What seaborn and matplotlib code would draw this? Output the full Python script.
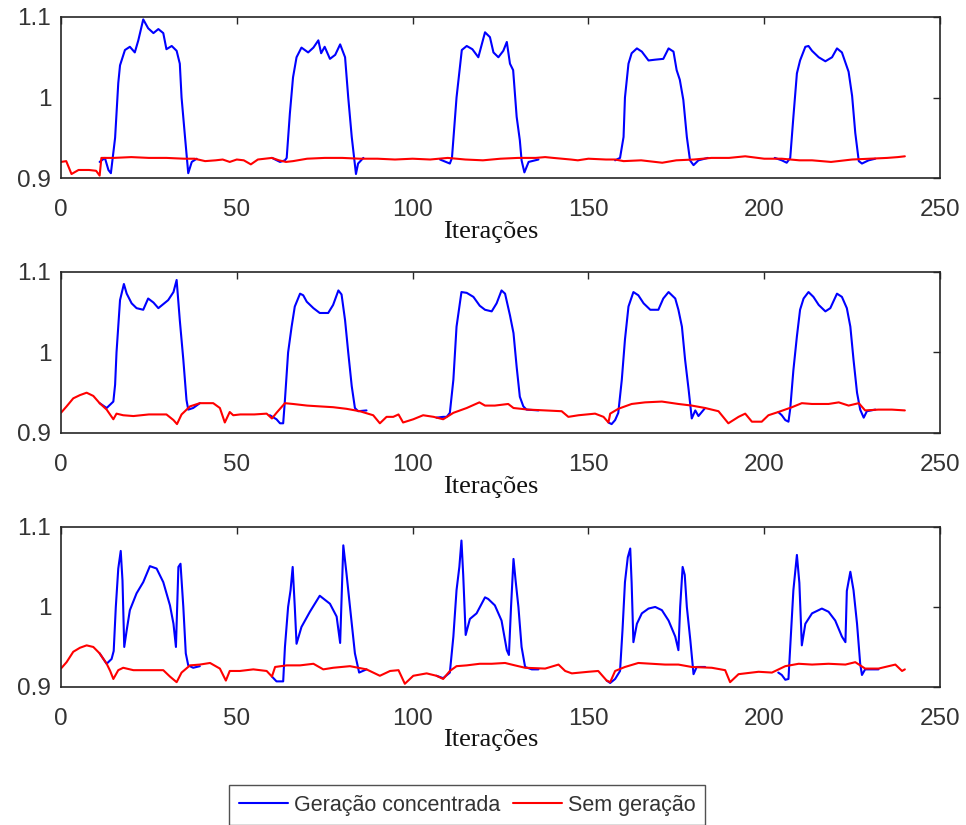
import numpy as np
import pandas as pd
import seaborn as sns
import matplotlib.pyplot as plt
from matplotlib.lines import Line2D

# ---- painel 1 ----
sem1_x = [0, 1.5, 3, 5, 8, 10, 11, 11.5, 15, 20, 25, 30, 35, 38, 41, 44, 46, 48, 50, 52, 54, 56,
          58, 60, 62, 64, 66, 70, 75, 80, 85, 90, 95, 100, 105, 110, 115, 120, 125, 130, 135,
          137.7, 140, 145, 147, 150, 155, 157.6, 160, 165, 171, 175, 180, 185, 190, 194.6,
          200, 205, 210, 213.6, 219, 225, 230, 235, 238, 240]
sem1_y = [0.920, 0.921, 0.905, 0.910, 0.910, 0.909, 0.903, 0.925, 0.925, 0.926, 0.925, 0.925,
          0.924, 0.924, 0.921, 0.922, 0.923, 0.920, 0.923, 0.922, 0.917, 0.923, 0.924, 0.925,
          0.922, 0.920, 0.921, 0.924, 0.925, 0.925, 0.924, 0.924, 0.923, 0.924, 0.923, 0.925,
          0.923, 0.922, 0.924, 0.925, 0.925, 0.926, 0.925, 0.923, 0.922, 0.924, 0.923, 0.923,
          0.921, 0.922, 0.919, 0.922, 0.923, 0.925, 0.925, 0.927, 0.924, 0.924, 0.922, 0.922,
          0.920, 0.923, 0.924, 0.925, 0.926, 0.927]
ger1_x = [
    [11, 12.5, 13.5, 14.2, 15.4, 16.3, 16.8, 18.2, 19.6, 21, 22, 23.4, 24.8, 26.3, 27.7, 29.1,
     30, 31.5, 32.9, 33.8, 34.3, 35.3, 36.2, 37.2, 38.6],
    [60, 62.3, 63.7, 64.2, 65.1, 66, 67, 68.4, 70.3, 71.8, 73.2, 74, 75, 76.5, 78, 79.4, 80.8,
     81.7, 82.7, 83.9, 84.5, 86],
    [107.8, 110.6, 111.2, 112.5, 114, 115.4, 117, 118.7, 120.6, 122, 123, 124.4, 125.8, 126.8,
     127.7, 128.6, 129.6, 130.5, 131, 131.8, 133, 135.8],
    [157.6, 159, 160, 160.4, 161.4, 162.3, 163.8, 165.2, 167.1, 169, 171.3, 172.8, 174.2, 175.1,
     176, 177, 178, 178.9, 179.9, 181.3, 184],
    [203, 205, 206.4, 207.4, 208.3, 209.3, 210.2, 211.7, 212.6, 213.6, 215.5, 217.4, 219.3,
     220.7, 222.1, 224, 225, 225.9, 226.9, 227.8, 229.7, 231.6],
]
ger1_y = [
    [0.920, 0.925, 0.910, 0.906, 0.950, 1.018, 1.040, 1.059, 1.063, 1.056, 1.071, 1.097, 1.086,
     1.080, 1.085, 1.080, 1.060, 1.064, 1.058, 1.042, 1.000, 0.950, 0.906, 0.920, 0.924],
    [0.925, 0.920, 0.922, 0.925, 0.980, 1.025, 1.050, 1.062, 1.056, 1.062, 1.071, 1.055, 1.063,
     1.048, 1.053, 1.066, 1.050, 1.000, 0.951, 0.905, 0.918, 0.925],
    [0.923, 0.918, 0.925, 1.000, 1.059, 1.064, 1.060, 1.050, 1.081, 1.075, 1.056, 1.050, 1.058,
     1.069, 1.042, 1.034, 0.976, 0.947, 0.922, 0.907, 0.920, 0.923],
    [0.922, 0.925, 0.951, 1.000, 1.042, 1.055, 1.061, 1.057, 1.046, 1.047, 1.048, 1.061, 1.057,
     1.034, 1.022, 0.997, 0.951, 0.922, 0.916, 0.922, 0.925],
    [0.925, 0.922, 0.919, 0.925, 0.976, 1.030, 1.046, 1.063, 1.064, 1.058, 1.050, 1.045, 1.050,
     1.061, 1.056, 1.032, 1.002, 0.956, 0.921, 0.918, 0.922, 0.924],
]

# ---- painel 2 ----
sem2_x = [0, 1.6, 3.5, 5.4, 7.3, 9.2, 11, 13, 14.9, 15.8, 17.7, 20.6, 25, 30, 32, 33, 34.3, 36.7,
          39.5, 43.3, 45.2, 46.6, 48, 49, 51, 55, 58.5, 60, 61.3, 63.7, 66, 70, 73.6, 77.4, 81.2,
          85, 88.8, 90.7, 92.6, 94.5, 96, 97.3, 100.2, 103, 106, 108.7, 111.6, 115.4, 119, 120.6,
          123.4, 127.2, 128.7, 132.9, 137.7, 142.4, 144.3, 147.2, 151.9, 154.3, 155.7, 156.2,
          158.5, 162.3, 166.1, 170.9, 175.6, 179.4, 183.2, 187, 189.8, 192.7, 194.6, 196.5,
          199.3, 201.2, 204, 207.9, 210.7, 213.6, 218.3, 221.2, 224, 226.9, 228.7, 232.5, 236.3,
          240]
sem2_y = [0.925, 0.933, 0.943, 0.947, 0.950, 0.946, 0.937, 0.929, 0.917, 0.924, 0.922, 0.921,
          0.923, 0.923, 0.916, 0.911, 0.923, 0.933, 0.937, 0.937, 0.931, 0.913, 0.926, 0.922,
          0.923, 0.923, 0.924, 0.918, 0.925, 0.937, 0.936, 0.934, 0.933, 0.932, 0.930, 0.927,
          0.922, 0.912, 0.920, 0.920, 0.923, 0.913, 0.917, 0.922, 0.920, 0.917, 0.925, 0.931,
          0.938, 0.934, 0.934, 0.936, 0.931, 0.929, 0.928, 0.927, 0.920, 0.922, 0.924, 0.920,
          0.913, 0.924, 0.930, 0.936, 0.938, 0.939, 0.936, 0.934, 0.931, 0.927, 0.912, 0.920,
          0.924, 0.914, 0.914, 0.922, 0.926, 0.932, 0.937, 0.936, 0.936, 0.938, 0.934, 0.937,
          0.928, 0.929, 0.929, 0.928]
ger2_x = [
    [11, 13, 14.9, 15.4, 15.8, 16.8, 17.9, 18.7, 20.1, 21.5, 23.4, 24.8, 26.3, 27.7, 29.1, 30.5,
     32, 32.9, 33.8, 34.8, 35.7, 36.2, 37.6, 39.5],
    [59.4, 61.3, 62.3, 63.2, 63.7, 64.6, 65.6, 66.5, 68, 68.9, 69.9, 71.8, 73.6, 76, 77.4, 78.9,
     79.8, 80.8, 81.7, 82.7, 83.6, 84.5, 86.9],
    [106.8, 108.7, 109.7, 110.6, 111.6, 112.5, 113.9, 115.4, 117.3, 119.1, 120.6, 122.5, 123.9,
     125.3, 126.3, 127.7, 128.7, 129.6, 130.5, 131.5, 132.4, 135.8],
    [155.7, 156.6, 157.6, 158.5, 159.5, 160.4, 161.4, 162.8, 164.2, 165.7, 167.6, 169.9, 171.3,
     172.8, 174.7, 175.6, 176.6, 177.5, 178.5, 179.4, 180.4, 181.3, 183.2],
    [204, 205, 206, 206.9, 207.4, 208.3, 209.3, 210.2, 211.2, 212.6, 214, 215.5, 217.4, 218.8,
     220.7, 222.1, 223.5, 224.5, 225.4, 226.4, 227.3, 228.3, 229.2, 231.6],
]
ger2_y = [
    [0.937, 0.931, 0.939, 0.960, 1.000, 1.065, 1.085, 1.073, 1.061, 1.055, 1.053, 1.067, 1.062,
     1.055, 1.060, 1.065, 1.075, 1.090, 1.040, 0.991, 0.941, 0.929, 0.931, 0.937],
    [0.922, 0.917, 0.912, 0.912, 0.941, 1.000, 1.032, 1.057, 1.073, 1.071, 1.063, 1.055, 1.049,
     1.049, 1.059, 1.077, 1.072, 1.040, 1.000, 0.958, 0.931, 0.927, 0.928],
    [0.919, 0.920, 0.920, 0.925, 0.966, 1.032, 1.075, 1.074, 1.069, 1.058, 1.053, 1.051, 1.061,
     1.077, 1.073, 1.046, 1.024, 0.982, 0.945, 0.933, 0.929, 0.928],
    [0.913, 0.911, 0.916, 0.925, 0.966, 1.016, 1.057, 1.075, 1.071, 1.061, 1.053, 1.053, 1.067,
     1.075, 1.067, 1.053, 1.032, 0.991, 0.954, 0.918, 0.928, 0.921, 0.931],
    [0.926, 0.922, 0.916, 0.914, 0.930, 0.978, 1.020, 1.053, 1.067, 1.075, 1.069, 1.059, 1.051,
     1.055, 1.073, 1.069, 1.055, 1.032, 0.991, 0.950, 0.929, 0.919, 0.927, 0.929],
]

# ---- painel 3 ----
sem3_x = [0, 1.6, 3.5, 5.4, 7.3, 9.2, 11, 13, 14, 14.9, 16.3, 17.7, 20.6, 25.3, 29.1, 31, 32.9,
          34.3, 36.7, 39.5, 42.4, 45.2, 46.9, 48, 50.9, 54.7, 58.5, 60, 60.9, 64.2, 68, 71.8,
          74.6, 77.4, 82.2, 86.9, 90.7, 93.6, 96, 97.8, 100.2, 104, 106.8, 108.7, 110.6, 112.5,
          115.4, 119.1, 122.5, 126.3, 129.1, 132, 137.7, 141.5, 143.4, 145.3, 150, 152.8, 155.2,
          156.2, 157.6, 160.4, 164.2, 168, 171.8, 175.6, 179.4, 185.1, 188.9, 190.3, 192.7,
          198.4, 202.2, 206, 209.8, 213.6, 218.3, 223.1, 225.9, 228.7, 232.5, 237.3, 239.2, 240]
sem3_y = [0.923, 0.931, 0.944, 0.949, 0.952, 0.950, 0.942, 0.929, 0.920, 0.910, 0.921, 0.924,
          0.921, 0.921, 0.921, 0.913, 0.906, 0.918, 0.927, 0.928, 0.930, 0.923, 0.908, 0.920,
          0.920, 0.922, 0.920, 0.913, 0.925, 0.927, 0.927, 0.929, 0.922, 0.924, 0.926, 0.922,
          0.914, 0.920, 0.921, 0.904, 0.914, 0.917, 0.914, 0.910, 0.920, 0.926, 0.927, 0.929,
          0.929, 0.930, 0.927, 0.924, 0.923, 0.928, 0.920, 0.917, 0.919, 0.920, 0.908, 0.906,
          0.920, 0.925, 0.930, 0.929, 0.928, 0.928, 0.925, 0.924, 0.921, 0.906, 0.916, 0.919,
          0.918, 0.926, 0.929, 0.928, 0.929, 0.928, 0.931, 0.923, 0.923, 0.928, 0.920, 0.922]
ger3_x = [
    [11, 13, 14.4, 15, 15.6, 16.3, 17, 17.5, 18, 18.7, 19.6, 21.5, 23.4, 25.3, 27.2, 29.1, 31,
     32, 32.7, 33.4, 34, 34.8, 35.5, 36.2, 37.6, 39.5],
    [60, 61.3, 63.2, 63.7, 64.6, 65.3, 65.9, 66.5, 67, 68.4, 70.8, 73.6, 76.5, 78.4, 79.4, 80.3,
     81.2, 82.2, 83.6, 84.8, 86.9],
    [106.8, 108.7, 110.6, 111.6, 112.5, 113.3, 113.9, 114.4, 115.1, 116.3, 118.2, 120.6, 121.5,
     123.4, 125.3, 126.8, 127.4, 128, 128.7, 129.3, 130.1, 131, 132, 133.9, 135.8],
    [155.2, 156.2, 157.6, 159, 159.7, 160.4, 161.2, 161.9, 162.3, 162.8, 163.8, 165.2, 167.1,
     169, 170.9, 172.8, 174.7, 175.6, 176.1, 176.8, 177.4, 178, 179, 179.9, 180.8, 183.2],
    [204, 205, 206, 206.9, 207.4, 208.3, 209.3, 210, 210.7, 211.7, 213.6, 216.4, 218.3, 220.2,
     222.1, 223.1, 223.5, 224.5, 225.4, 226.4, 227.3, 227.8, 228.7, 232.5],
]
ger3_y = [
    [0.942, 0.929, 0.935, 0.945, 1.000, 1.048, 1.070, 1.033, 0.950, 0.971, 0.996, 1.017, 1.031,
     1.051, 1.048, 1.031, 1.002, 0.979, 0.950, 1.050, 1.054, 1.000, 0.942, 0.927, 0.924, 0.926],
    [0.913, 0.907, 0.907, 0.950, 1.000, 1.021, 1.050, 1.000, 0.954, 0.975, 0.994, 1.014, 1.004,
     0.988, 0.955, 1.077, 1.042, 1.000, 0.942, 0.918, 0.922],
    [0.914, 0.911, 0.918, 0.963, 1.021, 1.050, 1.083, 1.040, 0.965, 0.985, 0.992, 1.012, 1.010,
     1.002, 0.983, 0.946, 0.940, 1.000, 1.060, 1.033, 1.000, 0.950, 0.925, 0.922, 0.922],
    [0.908, 0.905, 0.910, 0.920, 0.971, 1.031, 1.062, 1.073, 1.030, 0.956, 0.979, 0.992, 0.998,
     1.000, 0.996, 0.983, 0.963, 0.946, 1.000, 1.050, 1.040, 1.000, 0.958, 0.916, 0.925, 0.925],
    [0.918, 0.915, 0.909, 0.910, 0.950, 1.021, 1.065, 1.030, 0.952, 0.979, 0.992, 0.998, 0.994,
     0.983, 0.963, 0.956, 1.020, 1.044, 1.021, 0.979, 0.929, 0.915, 0.922, 0.922],
]

labels = ["Geração concentrada", "Sem geração"]
x_ticks = [0, 50, 100, 150, 200, 250]
y_ticks = [0.9, 1.0, 1.1]
y_tick_labels = ["0.9", "1", "1.1"]

sns.set_style("white")
plt.rcParams["font.family"] = ["Liberation Sans", "DejaVu Sans"]

cinza = "#262626"
azul = "#0000ff"
verm = "#ff0000"


def pulsos(xs, ys):
    rows = []
    for k, (px, py) in enumerate(zip(xs, ys)):
        for a, b in zip(px, py):
            rows.append((k, a, b))
    return pd.DataFrame(rows, columns=["seg", "x", "y"])


paineis = [(sem1_x, sem1_y, ger1_x, ger1_y),
           (sem2_x, sem2_y, ger2_x, ger2_y),
           (sem3_x, sem3_y, ger3_x, ger3_y)]
caixas = [[0.0631, 0.7842, 0.910, 0.1952],
          [0.0631, 0.4752, 0.910, 0.1952],
          [0.0631, 0.1673, 0.910, 0.1940]]

fig = plt.figure(figsize=(9.66, 8.25), dpi=100)
for (sx, sy, gx, gy), box in zip(paineis, caixas):
    ax = fig.add_axes(box)
    dg = pulsos(gx, gy)
    sns.lineplot(data=dg, x="x", y="y", units="seg", estimator=None, sort=False,
                 color=azul, lw=1.5, ax=ax)
    ds = pd.DataFrame({"x": sx, "y": sy})
    sns.lineplot(data=ds, x="x", y="y", estimator=None, sort=False,
                 color=verm, lw=1.5, ax=ax)
    ax.set_xlim(0, 250)
    ax.set_ylim(0.9, 1.1)
    ax.set_xticks(x_ticks)
    ax.set_yticks(y_ticks)
    ax.set_yticklabels(y_tick_labels)
    ax.set_ylabel("")
    ax.set_xlabel("Iterações", family=["Liberation Serif", "DejaVu Serif"], size=19,
                  color="#111111")
    ax.xaxis.set_label_coords(0.489, -0.265)
    ax.tick_params(direction="in", length=5, width=1, top=True, right=True,
                   labelsize=17.5, colors=cinza, labelcolor="#333333", pad=15)
    ax.tick_params(axis="y", pad=7)
    for sp in ax.spines.values():
        sp.set_color(cinza)
        sp.set_linewidth(1.2)

handles = [Line2D([], [], color=azul, lw=1.5), Line2D([], [], color=verm, lw=1.5)]
leg = fig.legend(handles, labels, loc="upper center", bbox_to_anchor=(0.4834, 0.0485),
                 ncol=2, frameon=True, fancybox=False, edgecolor=cinza, fontsize=15.5,
                 handlelength=2.3, handletextpad=0.25, columnspacing=0.6, borderpad=0.45,
                 borderaxespad=0)
leg.get_frame().set_linewidth(1.0)
for t in leg.get_texts():
    t.set_color("#333333")

fig.savefig("out.png", dpi=100)
